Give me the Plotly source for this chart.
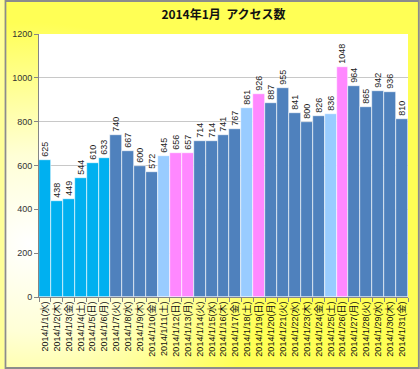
import base64
import plotly.graph_objects as go

# ---- data ----
dates = [f"2014/1/{d}" for d in range(1, 32)]
weekdays = ["水", "木", "金", "土", "日", "月", "火",
            "水", "木", "金", "土", "日", "月", "火",
            "水", "木", "金", "土", "日", "月", "火",
            "水", "木", "金", "土", "日", "月", "火",
            "水", "木", "金"]
visits = [625, 438, 449, 544, 610, 633, 740, 667, 600, 572, 645, 656, 657, 714,
          714, 741, 767, 861, 926, 887, 955, 841, 800, 826, 836, 1048, 964, 865,
          942, 936, 810]
# day type: ny = New Year holidays, wd = weekday, sat = Saturday, hol = Sunday/holiday
day_types = ["ny"] * 6 + ["wd"] * 4 + ["sat", "hol", "hol"] + ["wd"] * 4 + \
            ["sat", "hol"] + ["wd"] * 5 + ["sat", "hol"] + ["wd"] * 5
y_ticks = [0, 200, 400, 600, 800, 1000, 1200]
title_text = "2014年1月  アクセス数"

type_colors = {"ny": "#00B0F0", "wd": "#4F81BD", "sat": "#99CCFF", "hol": "#FF88FF"}

labels = [f"{d}({w})" for d, w in zip(dates, weekdays)]
colors = [type_colors[t] for t in day_types]

W, H = 420, 369
L, R, T, B = 35, 12, 34, 72
pw, ph = W - L - R, H - T - B

svg = f'''<svg xmlns="http://www.w3.org/2000/svg" width="{W}" height="{H}" viewBox="0 0 {W} {H}" preserveAspectRatio="none">
<defs><radialGradient id="g" cx="0.06" cy="0.66" r="0.6">
<stop offset="0" stop-color="#FFFFFF"/><stop offset="0.4" stop-color="#FFFFD6"/>
<stop offset="1" stop-color="#FFFF55"/></radialGradient></defs>
<rect x="0" y="0" width="{W}" height="{H}" fill="url(#g)"/>
<rect x="1" y="1" width="{W-2}" height="{H-2}" fill="none" stroke="#8C8C8C" stroke-width="2"/>
</svg>'''
src = "data:image/svg+xml;base64," + base64.b64encode(svg.encode("utf-8")).decode()

fig = go.Figure()
fig.add_trace(go.Bar(
    x=labels, y=visits,
    marker=dict(color=colors, line=dict(color="white", width=0.6)),
    text=[str(v) for v in visits],
    textposition="outside",
    textangle=-90,
    constraintext="none",
    cliponaxis=False,
    textfont=dict(family="Liberation Sans, Noto Sans CJK JP", size=9, color="#222222"),
    hoverinfo="x+y",
))

fig.update_layout(
    width=W, height=H,
    margin=dict(l=L, r=R, t=T, b=B),
    paper_bgcolor="#FFFF99",
    plot_bgcolor="white",
    bargap=0.0,
    showlegend=False,
    title=dict(text=f"<b>{title_text}</b>", x=0.5, xref="paper", xanchor="center",
               y=1 - 15 / H, yanchor="middle",
               font=dict(family="Noto Sans CJK JP", size=12, color="#111111")),
    images=[dict(source=src, xref="paper", yref="paper",
                 x=-L / pw, y=1 + T / ph, sizex=W / pw, sizey=H / ph,
                 xanchor="left", yanchor="top", sizing="stretch", layer="below")],
    shapes=[dict(type="rect", xref="paper", yref="paper", x0=0, x1=1, y0=0, y1=1,
                 fillcolor="white", line=dict(width=0), layer="below")],
)

fig.update_xaxes(
    type="category",
    tickangle=-90,
    tickfont=dict(family="Liberation Sans, Noto Sans CJK JP", size=9, color="#111111"),
    showline=True, linecolor="#868686", linewidth=1,
    ticks="outside", tickson="boundaries", ticklen=4, tickcolor="#868686",
    showgrid=False,
)
fig.update_yaxes(
    range=[0, 1200],
    tickvals=y_ticks,
    tickfont=dict(family="Liberation Sans", size=9, color="#333333"),
    showline=True, linecolor="#868686", linewidth=1,
    ticks="outside", ticklen=4, tickcolor="#868686",
    showgrid=True, gridcolor="#C8C8C8", gridwidth=1,
    zeroline=False,
)

fig.write_html("out.html", config={"displayModeBar": False},
               post_script="document.body.style.margin='0';")
